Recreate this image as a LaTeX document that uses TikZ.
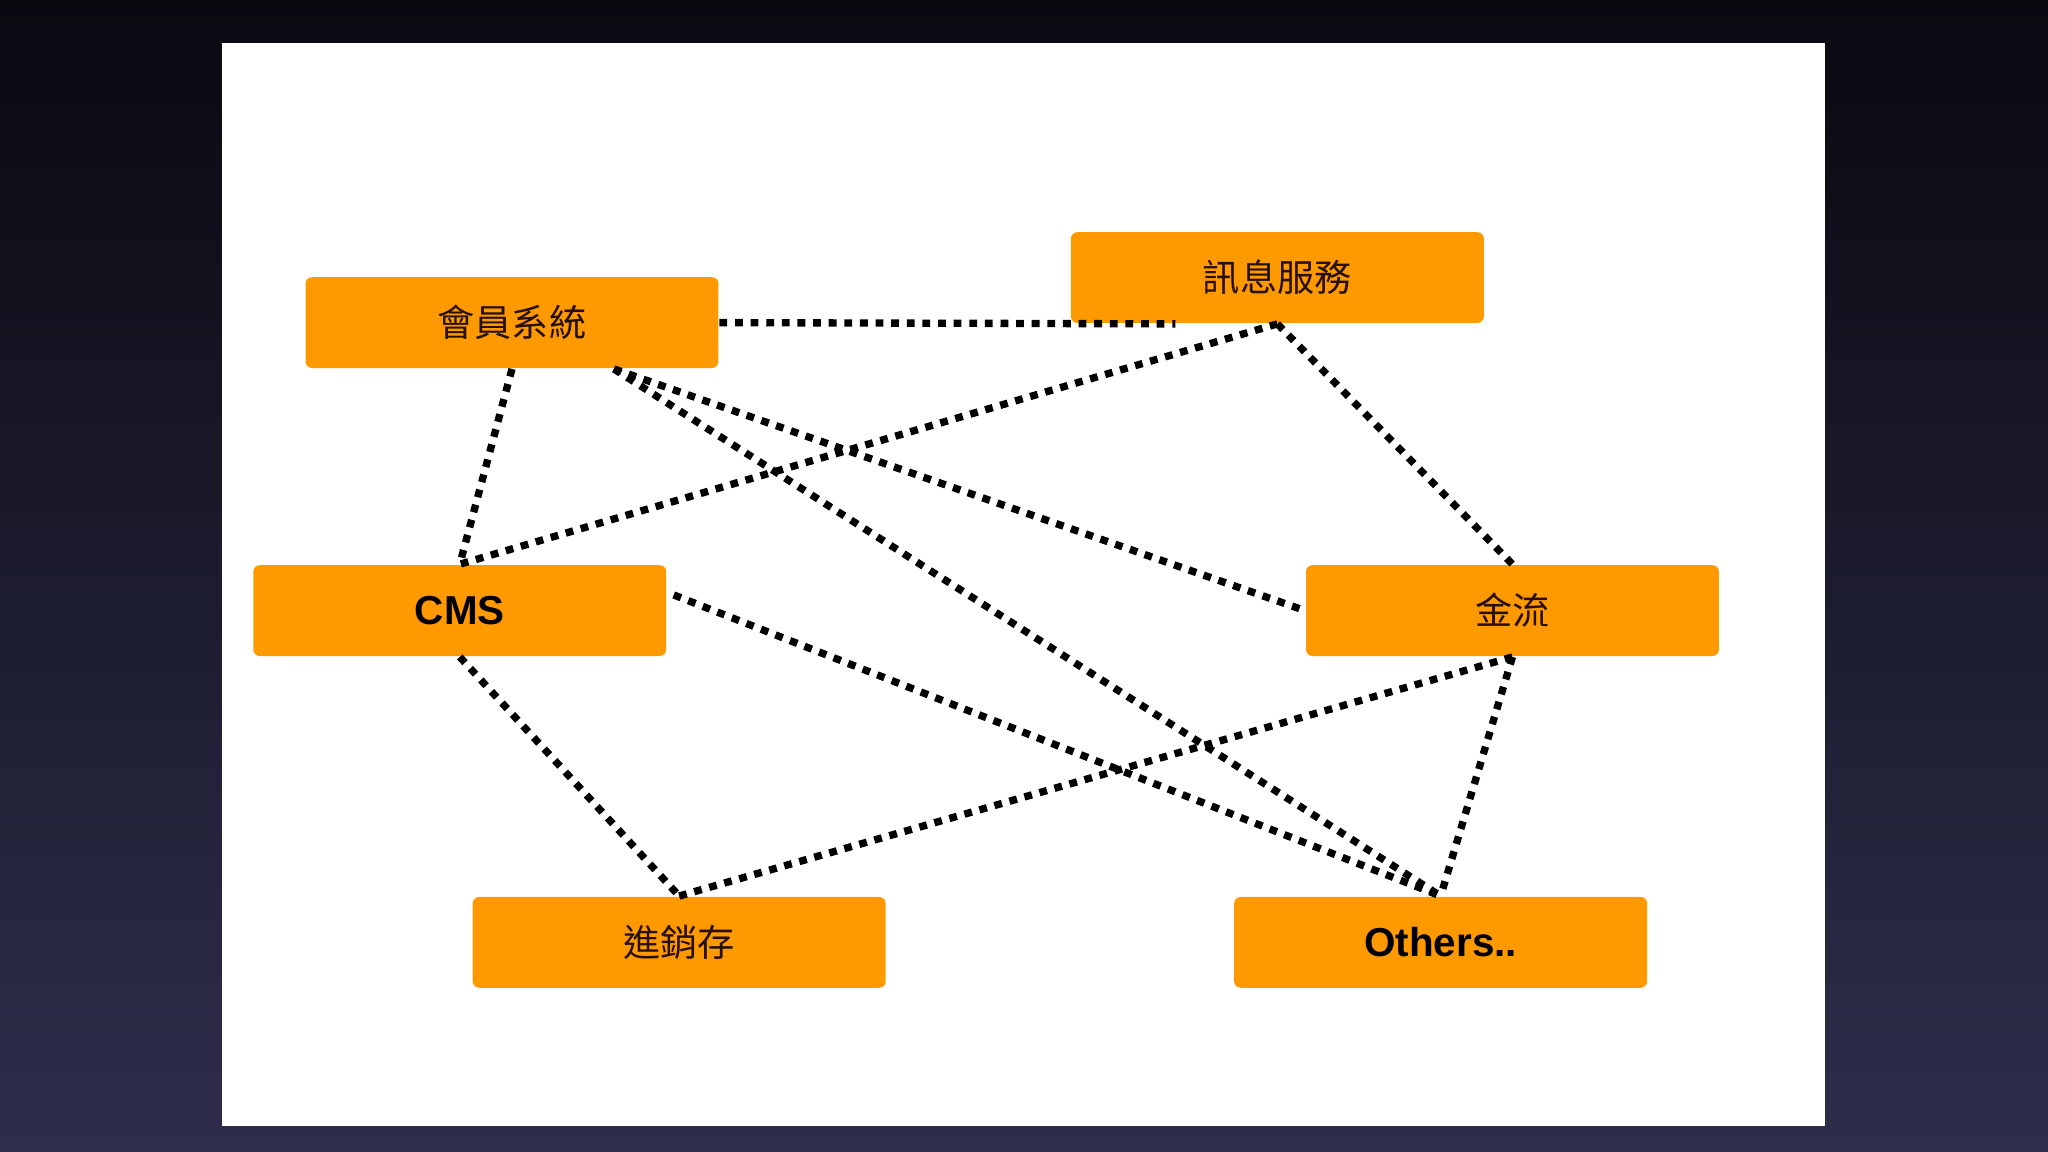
\documentclass[tikz,border=0pt]{standalone}
\usepackage{fontspec}
\setmainfont{Liberation Sans}
\newfontfamily\cjk{Noto Sans CJK TC}
\definecolor{bgtop}{RGB}{9,9,16}
\definecolor{bgbot}{RGB}{46,46,76}
\definecolor{boxorange}{RGB}{255,153,0}
\definecolor{txtdark}{RGB}{40,16,0}
\begin{document}
\begin{tikzpicture}[x=0.01cm,y=-0.01cm,
  box/.style={fill=boxorange, rounded corners=0.05cm, minimum width=3.16cm,
    minimum height=0.695cm, inner sep=0pt, text=txtdark},
  cjklabel/.style={font=\cjk\fontsize{8.1}{10}\selectfont},
  latlabel/.style={font=\bfseries\fontsize{8.8}{10}\selectfont, text=black},
  link/.style={line width=1.6pt, dash pattern=on 1.7pt off 1.7pt, black, line cap=butt}]
\shade[top color=bgtop, bottom color=bgbot] (0,0) rectangle (1568,882);
\useasboundingbox (0,0) rectangle (1568,882);
\fill[white] (170,33) rectangle (1397,862);

\node[box, cjklabel] (mem) at (392,247) {會員系統};
\node[box, cjklabel] (msg) at (978,212.5) {訊息服務};
\node[box, latlabel] (cms) at (352,467.5) {CMS};
\node[box, cjklabel] (fin) at (1158,467.5) {金流};
\node[box, cjklabel] (inv) at (520,721.5) {進銷存};
\node[box, latlabel] (oth) at (1103,721.5) {Others..};

\coordinate (msgend) at ([xshift=-0.78cm]msg.south);
\coordinate (memr) at ([xshift=0.78cm]mem.south);
\coordinate (cmsr) at ([xshift=0.05cm,yshift=0.12cm]cms.east);

\draw[link] (mem.east) -- (msgend);
\draw[link] (mem.south) -- (cms.north);
\draw[link] (memr) -- (fin.west);
\draw[link] (memr) -- (oth.north);
\draw[link] (msg.south) -- (cms.north);
\draw[link] (msg.south) -- (fin.north);
\draw[link] (cmsr) -- (oth.north);
\draw[link] (cms.south) -- (inv.north);
\draw[link] (inv.north) -- (fin.south);
\draw[link] (fin.south) -- (oth.north);
\end{tikzpicture}
\end{document}
